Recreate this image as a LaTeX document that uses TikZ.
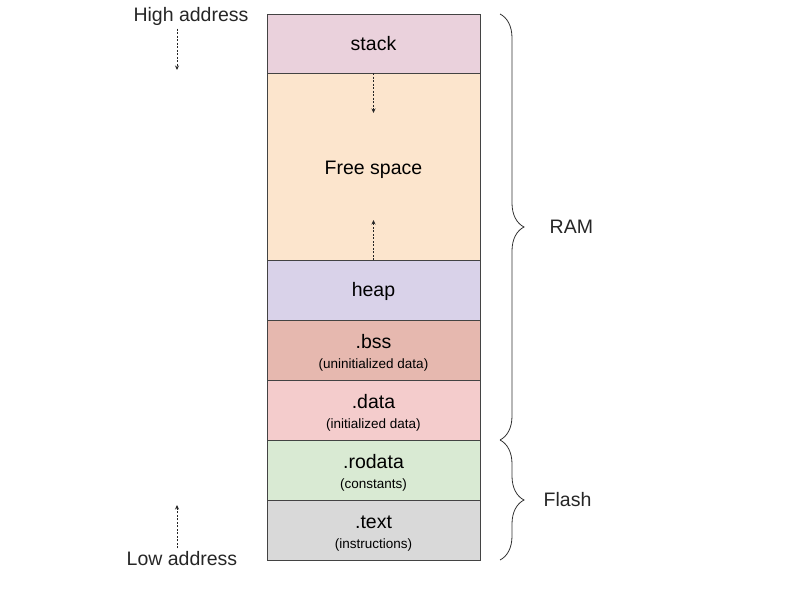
\documentclass[tikz,border=0pt]{standalone}
\usepackage{fontspec}
\setmainfont{Liberation Sans}
\usepackage{xcolor}
\definecolor{stackc}{HTML}{EAD1DC}
\definecolor{freec}{HTML}{FCE5CD}
\definecolor{heapc}{HTML}{D9D2E9}
\definecolor{bssc}{HTML}{E6B8AF}
\definecolor{datac}{HTML}{F4CCCC}
\definecolor{rodatac}{HTML}{D9EAD3}
\definecolor{textc}{HTML}{D9D9D9}
\definecolor{edge}{HTML}{434343}
\usetikzlibrary{arrows.meta,positioning,decorations.pathreplacing}
\newcommand{\segtext}[2]{\rule{0pt}{19pt}#1\\[-2pt]{\fontsize{13.5}{15}\selectfont #2}}

\begin{document}
\begin{tikzpicture}[
  x=1pt,y=-1pt,
  seg/.style={rectangle,draw=edge,line width=0.9pt,minimum width=213pt,minimum height=60pt,
    inner sep=0pt,outer sep=0pt,align=center,font=\fontsize{19.5}{22}\selectfont},
  lbl/.style={font=\fontsize{19.5}{22}\selectfont,text=black!85},
  dasharrow/.style={-{Stealth[length=4.5pt,width=4pt]},line width=0.8pt,dash pattern=on 2pt off 1.5pt,black!85},
  brc/.style={decorate,decoration={brace,amplitude=24pt},line width=0.8pt,black!80}
]
  \useasboundingbox (0,0) rectangle (800,600);

  % Memory segments
  \node[seg,fill=stackc,minimum height=59pt] (stack) at (373.5,43.5) {stack};
  \node[seg,fill=freec,minimum height=187pt,text height=20pt,below=0pt of stack] (free) {Free space};
  \node[seg,fill=heapc,text height=17pt,below=0pt of free] (heap) {heap};
  \node[seg,fill=bssc,below=0pt of heap] (bss) {\segtext{.bss}{(uninitialized data)}};
  \node[seg,fill=datac,below=0pt of bss] (data) {\segtext{.data}{(initialized data)}};
  \node[seg,fill=rodatac,below=0pt of data] (rodata) {\segtext{.rodata}{(constants)}};
  \node[seg,fill=textc,below=0pt of rodata] (text) {\segtext{.text}{(instructions)}};

  % Growth arrows
  \coordinate (stackgrow) at (373.5,113);
  \coordinate (heapgrow) at (373.5,220);
  \draw[dasharrow] (stack.south) -- (stackgrow);
  \draw[dasharrow] (heap.north) -- (heapgrow);

  % Address labels
  \node[lbl] (high) at (191,16) {High address};
  \node[lbl] (low) at (182,559) {Low address};
  \coordinate (highend) at (177,70);
  \coordinate (lowend) at (177,505);
  \draw[dasharrow] (high.south -| highend) -- (highend);
  \draw[dasharrow] (low.north -| lowend) -- (lowend);

  % Braces
  \draw[brc] ([xshift=20pt]stack.north east) -- ([xshift=20pt]data.south east)
    node[midway,right=46pt,lbl] (ram) {RAM};
  \draw[brc] ([xshift=20pt]rodata.north east) -- ([xshift=20pt]text.south east)
    node[midway,right=40pt,lbl] (flash) {Flash};
\end{tikzpicture}
\end{document}
